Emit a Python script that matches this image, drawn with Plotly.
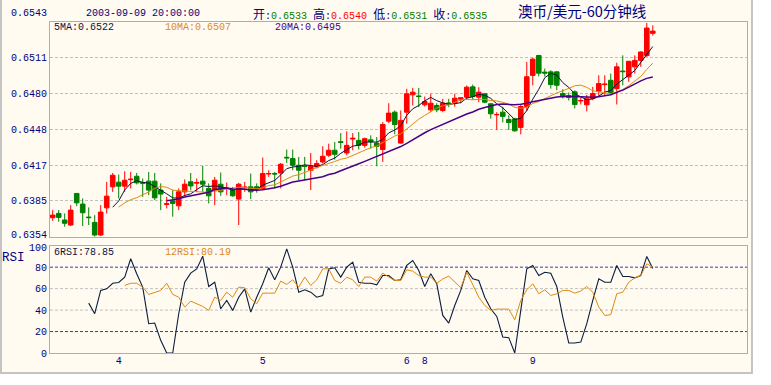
import plotly.graph_objects as go
import pandas as pd

# ---------------- data ----------------
idx = list(range(101))
opens = [0.63707, 0.63745, 0.63687, 0.63643, 0.63921, 0.63827, 0.63713, 0.63666, 0.63555, 0.63794,
         0.63979, 0.64020, 0.63985, 0.64042, 0.64072, 0.64017, 0.64029, 0.64029, 0.63950, 0.63824,
         0.63856, 0.63812, 0.63935, 0.64023, 0.64011, 0.64029, 0.63965, 0.63944, 0.64002, 0.63962,
         0.63950, 0.63871, 0.63971, 0.63979, 0.63980, 0.63965, 0.64092, 0.64096, 0.64101, 0.64239,
         0.64228, 0.64169, 0.64163, 0.64125, 0.64154, 0.64198, 0.64257, 0.64301, 0.64376, 0.64277,
         0.64400, 0.64388, 0.64344, 0.64393, 0.64364, 0.64307, 0.64557, 0.64636, 0.64364, 0.64636,
         0.64789, 0.64779, 0.64701, 0.64657, 0.64695, 0.64651, 0.64717, 0.64715, 0.64750, 0.64768,
         0.64859, 0.64768, 0.64798, 0.64710, 0.64613, 0.64636, 0.64572, 0.64577, 0.64502, 0.64686,
         0.64960, 0.65135, 0.64989, 0.64991, 0.64991, 0.64800, 0.64783, 0.64815, 0.64735, 0.64701,
         0.64757, 0.64821, 0.64879, 0.64917, 0.64844, 0.64998, 0.64947, 0.65035, 0.65092, 0.65136,
         0.6533]
highs = [0.63774, 0.63774, 0.63745, 0.63818, 0.63924, 0.63877, 0.63798, 0.63730, 0.63818, 0.64022,
         0.64101, 0.64087, 0.64116, 0.64110, 0.64101, 0.64052, 0.64110, 0.64101, 0.64009, 0.63891,
         0.63950, 0.63965, 0.64044, 0.64101, 0.64052, 0.64163, 0.64009, 0.64066, 0.64105, 0.64017,
         0.63979, 0.64014, 0.64022, 0.64096, 0.64009, 0.64237, 0.64125, 0.64110, 0.64189, 0.64307,
         0.64307, 0.64242, 0.64242, 0.64277, 0.64213, 0.64336, 0.64359, 0.64373, 0.64452, 0.64467,
         0.64452, 0.64461, 0.64412, 0.64432, 0.64417, 0.64549, 0.64715, 0.64651, 0.64651, 0.64842,
         0.64850, 0.64850, 0.64774, 0.64798, 0.64715, 0.64754, 0.64754, 0.64798, 0.64768, 0.64871,
         0.64879, 0.64856, 0.64803, 0.64715, 0.64636, 0.64684, 0.64610, 0.64587, 0.64704, 0.65079,
         0.65116, 0.65141, 0.65020, 0.65005, 0.64996, 0.64838, 0.64809, 0.64829, 0.64765, 0.64789,
         0.64859, 0.64961, 0.64961, 0.64976, 0.65072, 0.65136, 0.65084, 0.65136, 0.65171, 0.65423,
         0.6540]
lows = [0.63680, 0.63672, 0.63628, 0.63634, 0.63809, 0.63634, 0.63643, 0.63540, 0.63545, 0.63745,
        0.63935, 0.63877, 0.63935, 0.63965, 0.64000, 0.63891, 0.63906, 0.63862, 0.63774, 0.63789,
        0.63716, 0.63774, 0.63897, 0.63950, 0.63935, 0.63935, 0.63833, 0.63818, 0.63900, 0.63906,
        0.63891, 0.63643, 0.63935, 0.63871, 0.63928, 0.63950, 0.64066, 0.63965, 0.63965, 0.64189,
        0.64125, 0.64037, 0.64037, 0.63950, 0.64140, 0.64184, 0.64242, 0.64219, 0.64315, 0.64257,
        0.64301, 0.64307, 0.64324, 0.64315, 0.64160, 0.64198, 0.64540, 0.64441, 0.64359, 0.64535,
        0.64695, 0.64680, 0.64686, 0.64636, 0.64636, 0.64636, 0.64680, 0.64684, 0.64715, 0.64745,
        0.64745, 0.64724, 0.64715, 0.64579, 0.64479, 0.64546, 0.64479, 0.64465, 0.64441, 0.64646,
        0.64872, 0.64951, 0.64950, 0.64844, 0.64829, 0.64757, 0.64739, 0.64669, 0.64704, 0.64643,
        0.64742, 0.64772, 0.64786, 0.64786, 0.64704, 0.64873, 0.64903, 0.64976, 0.65035, 0.65122,
        0.6531]
closes = [0.63730, 0.63710, 0.63658, 0.63774, 0.63838, 0.63751, 0.63708, 0.63555, 0.63757, 0.63897,
          0.64081, 0.63985, 0.64037, 0.64046, 0.64014, 0.64011, 0.63950, 0.63882, 0.63915, 0.63830,
          0.63833, 0.63935, 0.64002, 0.63987, 0.64017, 0.64002, 0.63900, 0.64037, 0.63935, 0.63967,
          0.63900, 0.64002, 0.63976, 0.63935, 0.63959, 0.64096, 0.64096, 0.64092, 0.64178, 0.64234,
          0.64169, 0.64125, 0.64158, 0.64160, 0.64184, 0.64248, 0.64301, 0.64265, 0.64371, 0.64344,
          0.64406, 0.64344, 0.64403, 0.64375, 0.64336, 0.64528, 0.64628, 0.64528, 0.64564, 0.64798,
          0.64812, 0.64774, 0.64730, 0.64715, 0.64657, 0.64715, 0.64708, 0.64759, 0.64763, 0.64856,
          0.64774, 0.64812, 0.64724, 0.64622, 0.64616, 0.64599, 0.64546, 0.64472, 0.64686, 0.64948,
          0.65103, 0.64979, 0.64980, 0.64879, 0.64873, 0.64772, 0.64765, 0.64704, 0.64739, 0.64754,
          0.64800, 0.64888, 0.64883, 0.64809, 0.65035, 0.64993, 0.65084, 0.65092, 0.65166, 0.65377,
          0.6535]

rsi6_values = [46.5, 36.6, 58.3, 59.8, 65, 65.7, 70.7, 87.8, 73.8, 61.4,
               27.3, 27.9, 11.8, 0, 0, 36.6, 66, 74.4, 78.4, 90.2,
               62, 66, 41.2, 49, 39.7, 52, 59.8, 38.1, 52, 64.5,
               79.4, 68.2, 80, 97, 80, 56.7, 58.9, 56.7, 52, 53.6,
               78.4, 79.4, 70.7, 80, 84.6, 66, 65, 65, 63.6, 72.2,
               72.2, 67.6, 68.2, 81.6, 86.2, 76.9, 62, 73.8, 64.5, 35,
               27.9, 44.3, 58.3, 76.9, 69.1, 67.6, 52, 41.2, 34.1, 14.9,
               14.3, 0, 39.7, 78.4, 81.6, 72.2, 75.3, 74.4, 62, 33.5,
               9.3, 9.3, 10.2, 27.3, 49, 69.1, 66, 66, 81.6, 71.3,
               71.3, 70, 72.2, 90, 78.85]
rsi12_values = [63, 65, 65, 61.4, 54.6, 56.7, 58.3, 65, 54.6, 52,
                42.8, 48.4, 45.9, 43.4, 39.7, 52, 49, 56.7, 52, 61.4,
                60.8, 50.5, 45.9, 55.8, 55.8, 55.8, 67, 63.9, 68.2, 61.4,
                70.7, 63, 68.2, 78.4, 78.4, 67.6, 65, 70.7, 68.2, 62,
                70.7, 70.7, 67, 74.4, 70.7, 67.6, 67.6, 77.5, 76.3, 72.2,
                70.7, 70.7, 65, 69.1, 71.6, 66, 60.8, 75.3, 63, 52,
                44.3, 39.7, 40.9, 40.9, 40.9, 31, 49, 58.9, 64.5, 55.2,
                58.9, 53.6, 55.2, 58.3, 58.3, 55.8, 57.7, 62, 56.7, 42.8,
                35, 35.7, 55.2, 56.7, 66, 70, 72.2, 83.1, 80.19]
rsi6 = [None] * 6 + rsi6_values
rsi12 = [None] * 12 + rsi12_values

price_ticks = [0.63855, 0.6417, 0.64485, 0.648, 0.65115]
price_labels = ["0.6385", "0.6417", "0.6448", "0.6480", "0.6511"]
top_price_label = "0.6543"
bottom_price_label = "0.6354"
price_range = [0.6354, 0.6543]
rsi_ticks = [0, 20, 40, 60, 80]
rsi_top_label = "100"
day_ticks = [11, 35, 59, 62, 80]
day_labels = ["4", "5", "6", "8", "9"]

ma_periods = [5, 10, 20]
ma_first = [10, 11, 19]
ma_colors = ["#101040", "#E08A10", "#480088"]
ma_widths = [1, 1, 1.5]

title_text = "澳币/美元-60分钟线"
date_text = "2003-09-09 20:00:00"
ma_labels = ["5MA:0.6522", "10MA:0.6507", "20MA:0.6495"]
rsi_labels = ["6RSI:78.85", "12RSI:80.19"]

# ---------------- geometry helpers ----------------
W, H = 771, 385
L, R, T, B = 50, 747, 22, 353
MAIN_BOTTOM = 236.7
RSI_TOP = 245.7


def px(x):
    return (x - L) / (R - L)


def py(y):
    return (B - y) / (B - T)


NAVY = "#000080"
MONO = "Liberation Mono, DejaVu Sans Mono, monospace"
CJK = "Noto Sans CJK SC"
CREAM = "#FFFBF0"
FRAME = "#AEAEAE"

closes_s = pd.Series(closes)
fig = go.Figure()

fig.add_trace(go.Candlestick(
    x=idx, open=opens, high=highs, low=lows, close=closes,
    increasing=dict(line=dict(color="#FF0000", width=1), fillcolor="#FF0000"),
    decreasing=dict(line=dict(color="#008000", width=1), fillcolor="#008000"),
    whiskerwidth=0, xaxis="x", yaxis="y", showlegend=False, hoverinfo="skip"))

for per, first, col, wd in zip(ma_periods, ma_first, ma_colors, ma_widths):
    ma = closes_s.rolling(per).mean()
    vals = [None if i < first else float(ma[i]) for i in idx]
    fig.add_trace(go.Scatter(x=idx, y=vals, mode="lines", line=dict(color=col, width=wd),
                             xaxis="x", yaxis="y", showlegend=False, hoverinfo="skip"))

fig.add_trace(go.Scatter(x=idx, y=rsi6, mode="lines", line=dict(color="#0A1E40", width=1.1),
                         xaxis="x2", yaxis="y2", showlegend=False, hoverinfo="skip"))
fig.add_trace(go.Scatter(x=idx, y=rsi12, mode="lines", line=dict(color="#E08A10", width=1),
                         xaxis="x2", yaxis="y2", showlegend=False, hoverinfo="skip"))

xr = [-0.45, 115.7]
tickfont = dict(family=MONO, size=10, color=NAVY)
main_dom = [py(MAIN_BOTTOM), 1]
rsi_dom = [0, py(RSI_TOP)]

shapes = [
    dict(type="rect", xref="paper", yref="paper", x0=px(1), x1=px(752), y0=py(373), y1=py(-2),
         fillcolor=CREAM, line=dict(color="#C4C4C4", width=2), layer="below"),
]
for v, c in zip([20, 40, 60, 80], ["#3A3AB0", "#C0C0C0", "#C0C0C0", "#3A3AB0"]):
    shapes.append(dict(type="line", xref="x2 domain", yref="y2", x0=0, x1=1, y0=v, y1=v,
                       line=dict(color=c, width=1, dash="3px,2px"), layer="below"))

annotations = []


def ann(text, x, y, color=NAVY, family=MONO, size=10, xanchor="left"):
    annotations.append(dict(text=text, x=px(x), y=py(y), xref="paper", yref="paper",
                            xanchor=xanchor, yanchor="middle", showarrow=False,
                            font=dict(family=family, size=size, color=color), borderpad=0))


def cj(ch):
    return f"<span style='font-family:{CJK};font-size:12px'>{ch}</span>"


ann(date_text, 85, 14)
ohlc = (cj("开") + ":<span style='color:#008000'>0.6533</span> " +
        cj("高") + ":<span style='color:#FF0000'>0.6540</span> " +
        cj("低") + ":<span style='color:#008000'>0.6531</span> " +
        cj("收") + ":<span style='color:#008000'>0.6535</span>")
ann(ohlc, 252, 14)
ann(title_text, 517, 11, family=CJK, size=14.5)
ann(top_price_label, 47.5, 14, xanchor="right")
ann(bottom_price_label, 47.5, 235.5, xanchor="right")
ann(rsi_top_label, 47.5, 248.5, xanchor="right")
for t, x, c in zip(ma_labels, [53, 164, 274], ma_colors):
    ann(t, x, 27.5, color=c)
ann("RSI", 1, 257.5, size=12.5)
ann(rsi_labels[0], 53, 252, color="#101040")
ann(rsi_labels[1], 164, 252, color="#E08A10")

fig.update_layout(
    width=W, height=H,
    margin=dict(l=L, r=W - R, t=T, b=H - B, pad=0, autoexpand=False),
    paper_bgcolor="#FFFFFF", plot_bgcolor=CREAM,
    showlegend=False, hovermode=False,
    xaxis=dict(domain=[0, 1], range=xr, anchor="y", showticklabels=False, ticks="",
               showgrid=False, zeroline=False, showline=True, mirror=True, automargin=False,
               linecolor=FRAME, linewidth=1, rangeslider=dict(visible=False)),
    yaxis=dict(domain=main_dom, range=price_range, anchor="x", tickvals=price_ticks,
               ticktext=price_labels, tickfont=tickfont, ticks="", showgrid=True,
               gridcolor="#C0C0C0", griddash="3px,2px", gridwidth=1, zeroline=False,
               showline=True, mirror=True, linecolor=FRAME, linewidth=1, automargin=False),
    xaxis2=dict(domain=[0, 1], range=xr, anchor="y2", matches="x", tickvals=day_ticks,
                ticktext=day_labels, tickfont=tickfont, ticks="", showgrid=False,
                zeroline=False, showline=True, mirror=True, linecolor=FRAME, linewidth=1,
                automargin=False, ticklabelstandoff=-2),
    yaxis2=dict(domain=rsi_dom, range=[0, 100], anchor="x2", tickvals=rsi_ticks,
                tickfont=tickfont, ticks="", showgrid=False, zeroline=False,
                showline=True, mirror=True, linecolor=FRAME, linewidth=1, automargin=False),
    shapes=shapes, annotations=annotations,
    boxgap=0.15, boxgroupgap=0.1,
)

fig.write_html("out.html", config={"displayModeBar": False, "staticPlot": True},
               post_script="document.body.style.margin='0';")
